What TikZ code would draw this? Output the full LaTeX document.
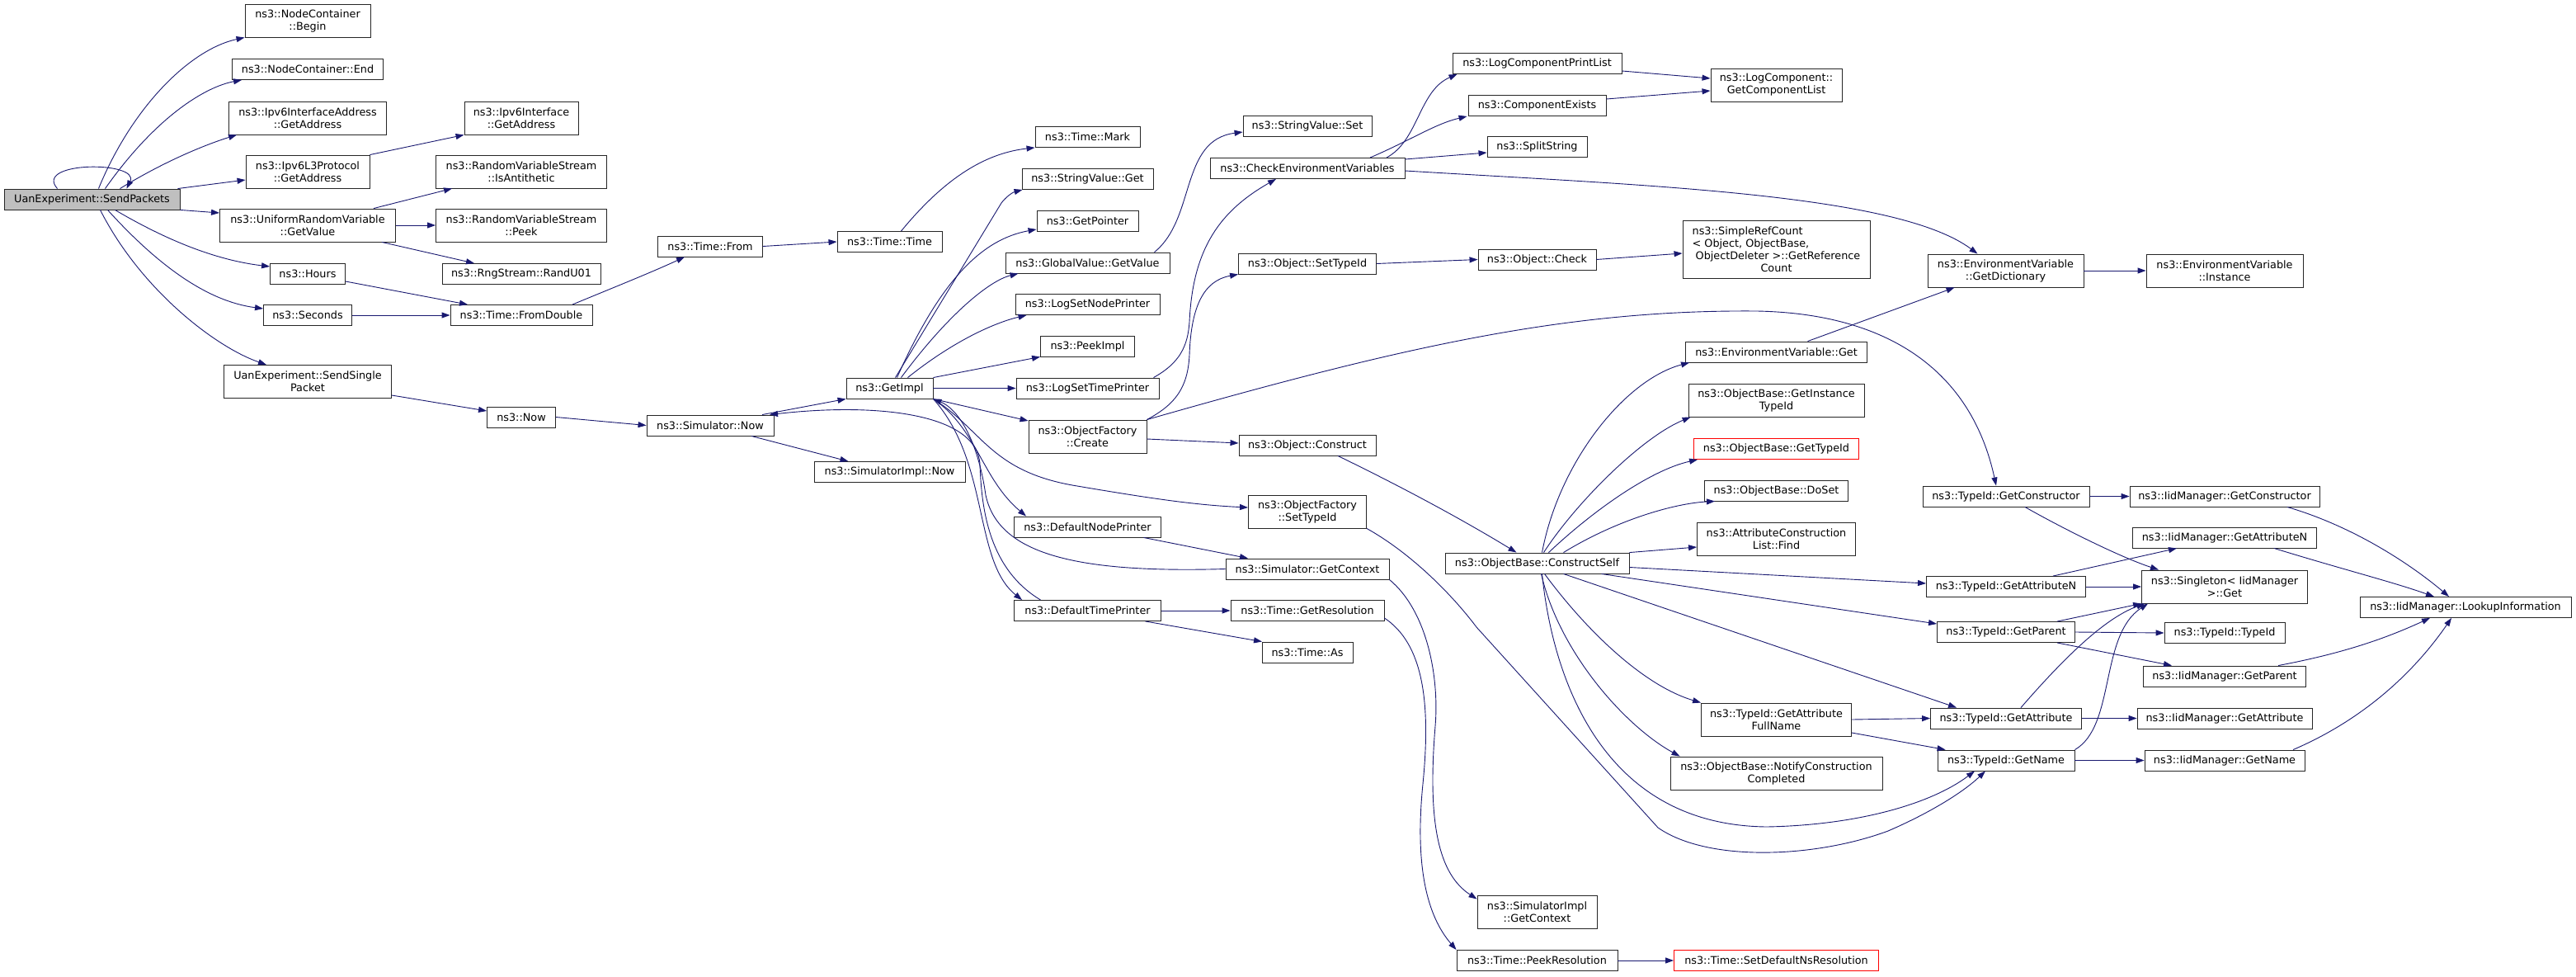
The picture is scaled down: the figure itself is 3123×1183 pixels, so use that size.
\documentclass[tikz,border=0pt]{standalone}
\usepackage{fontspec}
\setmainfont{DejaVu Sans}
\usetikzlibrary{arrows.meta,calc}
\definecolor{edgeblue}{HTML}{191970}
\definecolor{rootgray}{HTML}{BFBFBF}
\tikzset{
  box/.style={draw=black!85, fill=white, line width=0.9pt, minimum height=25pt, inner sep=2pt, align=center, font=\fontsize{12.8pt}{15pt}\selectfont},
  twol/.style={minimum height=40pt},
  redbox/.style={draw=red},
  edge/.style={draw=edgeblue, line width=0.9pt, -{Triangle[length=10pt,width=7pt]}, fill=none}
}
\begin{document}
\begin{tikzpicture}[x=1pt,y=-1pt]
\useasboundingbox (0,0) rectangle (3123,1183);
% column 0
\node[box,fill=rootgray,minimum width=213pt] (sp) at (111.5,241.5) {UanExperiment::SendPackets};
% column 1
\node[box,twol,minimum width=152pt] (ncb) at (373,25) {ns3::NodeContainer\\::Begin};
\node[box,minimum width=183pt] (nce) at (373,84) {ns3::NodeContainer::End};
\node[box,twol,minimum width=191pt] (iag) at (373,143) {ns3::Ipv6InterfaceAddress\\::GetAddress};
\node[box,twol,minimum width=150pt] (l3g) at (373,208) {ns3::Ipv6L3Protocol\\::GetAddress};
\node[box,twol,minimum width=213pt] (urv) at (373,273) {ns3::UniformRandomVariable\\::GetValue};
\node[box,minimum width=91pt] (hrs) at (373,332) {ns3::Hours};
\node[box,minimum width=107pt] (sec) at (373,382) {ns3::Seconds};
\node[box,twol,minimum width=203pt] (ssp) at (373,462.5) {UanExperiment::SendSingle\\Packet};
% column 2
\node[box,twol,minimum width=138pt] (iig) at (632,143) {ns3::Ipv6Interface\\::GetAddress};
\node[box,twol,minimum width=207pt] (rvsa) at (632,208) {ns3::RandomVariableStream\\::IsAntithetic};
\node[box,twol,minimum width=207pt] (rvsp) at (632,273) {ns3::RandomVariableStream\\::Peek};
\node[box,minimum width=192pt] (rng) at (632,332) {ns3::RngStream::RandU01};
\node[box,minimum width=172pt] (fd) at (632,382) {ns3::Time::FromDouble};
\node[box,minimum width=83pt] (now) at (632,505.5) {ns3::Now};
% column 3
\node[box,minimum width=127pt] (tfrom) at (861,298.5) {ns3::Time::From};
\node[box,minimum width=154pt] (snow) at (861,515.5) {ns3::Simulator::Now};
% column 4
\node[box,minimum width=127pt] (ttime) at (1078.5,293) {ns3::Time::Time};
\node[box,minimum width=105pt] (gimpl) at (1078.5,470.5) {ns3::GetImpl};
\node[box,minimum width=183pt] (sinow) at (1078.5,572) {ns3::SimulatorImpl::Now};
% column 5
\node[box,minimum width=127pt] (mark) at (1318.5,166) {ns3::Time::Mark};
\node[box,minimum width=159pt] (svget) at (1318.5,217) {ns3::StringValue::Get};
\node[box,minimum width=123pt] (gptr) at (1318.5,268) {ns3::GetPointer};
\node[box,minimum width=199pt] (gvget) at (1318.5,318.5) {ns3::GlobalValue::GetValue};
\node[box,minimum width=175pt] (lsnp) at (1318.5,369) {ns3::LogSetNodePrinter};
\node[box,minimum width=114pt] (peek) at (1318.5,419.5) {ns3::PeekImpl};
\node[box,minimum width=173pt] (lstp) at (1318.5,470.5) {ns3::LogSetTimePrinter};
\node[box,twol,minimum width=143pt] (ofc) at (1318.5,529) {ns3::ObjectFactory\\::Create};
\node[box,minimum width=178pt] (dnp) at (1318.5,638.5) {ns3::DefaultNodePrinter};
\node[box,minimum width=178pt] (dtp) at (1318.5,740) {ns3::DefaultTimePrinter};
% column 6
\node[box,minimum width=156pt] (svset) at (1585,153) {ns3::StringValue::Set};
\node[box,minimum width=236pt] (cev) at (1585,204) {ns3::CheckEnvironmentVariables};
\node[box,minimum width=167pt] (osti) at (1585,319.5) {ns3::Object::SetTypeId};
\node[box,minimum width=166pt] (ocons) at (1585,539.5) {ns3::Object::Construct};
\node[box,twol,minimum width=143pt] (ofst) at (1585,620) {ns3::ObjectFactory\\::SetTypeId};
\node[box,minimum width=198pt] (sgc) at (1585,689.5) {ns3::Simulator::GetContext};
\node[box,minimum width=186pt] (tgr) at (1585,740) {ns3::Time::GetResolution};
\node[box,minimum width=110pt] (tas) at (1585,790.5) {ns3::Time::As};
% column 7
\node[box,minimum width=205pt] (lcpl) at (1863.5,77) {ns3::LogComponentPrintList};
\node[box,minimum width=167pt] (cex) at (1863.5,128) {ns3::ComponentExists};
\node[box,minimum width=121pt] (split) at (1863.5,178) {ns3::SplitString};
\node[box,minimum width=143pt] (ochk) at (1863.5,314.5) {ns3::Object::Check};
\node[box,minimum width=223pt] (obcs) at (1863.5,682.5) {ns3::ObjectBase::ConstructSelf};
\node[box,twol,minimum width=145pt] (sigc) at (1863.5,1105) {ns3::SimulatorImpl\\::GetContext};
\node[box,minimum width=195pt] (tpr) at (1863.5,1164) {ns3::Time::PeekResolution};
% column 8
\node[box,twol,minimum width=159pt] (gcl) at (2153.5,103) {ns3::LogComponent::\\GetComponentList};
\node[box,minimum width=227pt,minimum height=70pt,align=left] (src) at (2153.5,302) {ns3::SimpleRefCount\\{}< Object, ObjectBase,\\\hspace*{4pt}ObjectDeleter >::GetReference\\\hspace*{\fill}Count\hspace*{\fill}};
\node[box,minimum width=220pt] (evg) at (2153.5,426.5) {ns3::EnvironmentVariable::Get};
\node[box,twol,minimum width=213pt] (obgit) at (2153.5,485) {ns3::ObjectBase::GetInstance\\TypeId};
\node[box,redbox,minimum width=200pt] (obgt) at (2153.5,544) {ns3::ObjectBase::GetTypeId};
\node[box,minimum width=174pt] (obds) at (2153.5,594.5) {ns3::ObjectBase::DoSet};
\node[box,twol,minimum width=192pt] (acl) at (2153.5,653) {ns3::AttributeConstruction\\List::Find};
\node[box,twol,minimum width=182pt] (gafn) at (2153.5,872) {ns3::TypeId::GetAttribute\\FullName};
\node[box,twol,minimum width=257pt] (ncc) at (2153.5,937) {ns3::ObjectBase::NotifyConstruction\\Completed};
\node[box,redbox,minimum width=248pt] (sdns) at (2153.5,1164) {ns3::Time::SetDefaultNsResolution};
% column 9
\node[box,twol,minimum width=189pt] (evgd) at (2431.5,328) {ns3::EnvironmentVariable\\::GetDictionary};
\node[box,minimum width=202pt] (tgc) at (2432,601.5) {ns3::TypeId::GetConstructor};
\node[box,minimum width=193pt] (tgan) at (2432,711) {ns3::TypeId::GetAttributeN};
\node[box,minimum width=167pt] (tgp) at (2432,766) {ns3::TypeId::GetParent};
\node[box,minimum width=183pt] (tga) at (2432,870.5) {ns3::TypeId::GetAttribute};
\node[box,minimum width=166pt] (tgn) at (2432,921.5) {ns3::TypeId::GetName};
% column 10
\node[box,twol,minimum width=190pt] (evi) at (2697,328) {ns3::EnvironmentVariable\\::Instance};
\node[box,minimum width=230pt] (igc) at (2697,601.5) {ns3::IidManager::GetConstructor};
\node[box,minimum width=223pt] (igan) at (2697,651.5) {ns3::IidManager::GetAttributeN};
\node[box,twol,minimum width=201pt] (sing) at (2697,711) {ns3::Singleton< IidManager\\ >::Get};
\node[box,minimum width=146pt] (ttid) at (2697,767) {ns3::TypeId::TypeId};
\node[box,minimum width=197pt] (igp) at (2697,819.5) {ns3::IidManager::GetParent};
\node[box,minimum width=212pt] (iga) at (2697,870.5) {ns3::IidManager::GetAttribute};
\node[box,minimum width=194pt] (ign) at (2697,921.5) {ns3::IidManager::GetName};
% column 11
\node[box,minimum width=256pt] (lki) at (2989,736) {ns3::IidManager::LookupInformation};

% ---------------- edges ----------------
% SendPackets
\draw[edge] ([xshift=-42pt]sp.north) .. controls (40,195) and (170,195) .. ([xshift=42pt]sp.north);
\draw[edge] ([xshift=8pt]sp.north) .. controls (160,130) and (230,60) .. (ncb.south west);
\draw[edge] ([xshift=16pt]sp.north) .. controls (190,140) and (250,105) .. ([xshift=12pt]nce.south west);
\draw[edge] ([xshift=34pt]sp.north) .. controls (200,195) and (250,175) .. ([xshift=10pt]iag.south west);
\draw[edge] ([xshift=104pt]sp.north) -- ([yshift=-10pt]l3g.west);
\draw[edge] (sp.south east) -- ([yshift=15pt]urv.west);
\draw[edge] ([xshift=28pt]sp.south) .. controls (200,290) and (260,315) .. ([yshift=9pt]hrs.west);
\draw[edge] ([xshift=19pt]sp.south) .. controls (190,320) and (250,365) .. ([yshift=8pt]sec.west);
\draw[edge] ([xshift=10pt]sp.south) .. controls (170,350) and (260,420) .. ([xshift=-50pt]ssp.north);
% column 1 -> 2
\draw[edge] (l3g.north east) -- (iig.south west);
\draw[edge] ([xshift=80pt]urv.north) -- ([xshift=20pt]rvsa.south west);
\draw[edge] (urv.east) -- (rvsp.west);
\draw[edge] ([xshift=90pt]urv.south) -- ([xshift=-57pt]rng.north);
\draw[edge] ([yshift=-9pt]hrs.east) -- ([xshift=-65pt]fd.north);
\draw[edge] (sec.east) -- (fd.west);
\draw[edge] ([yshift=-16.5pt]ssp.east) -- ([yshift=7.5pt]now.west);
% time chain
\draw[edge] ([xshift=62pt]fd.north) .. controls (740,350) and (790,330) .. ([xshift=-31pt]tfrom.south);
\draw[edge] (tfrom.east) -- (ttime.west);
\draw[edge] ([xshift=14pt]ttime.north) .. controls (1150,210) and (1200,185) .. (mark.south west);
% simulator now
\draw[edge] (now.east) -- (snow.west);
\draw[edge] ([xshift=63pt]snow.north) -- (gimpl.south west);
\draw[edge] ([xshift=50pt]snow.south) -- ([xshift=-50pt]sinow.north);
\draw[edge] ([xshift=-57pt]dtp.north) .. controls (1200,690) and (1190,620) .. (1188,563) .. controls (1185,500) and (1060,488) .. ([xshift=72pt]snow.north);
% GetImpl fan
\draw[edge] ([xshift=7pt]gimpl.north) -- (1214,246) .. controls (1220,238) and (1228,233) .. ([xshift=1pt]svget.south west);
\draw[edge] ([xshift=9pt]gimpl.north) .. controls (1140,340) and (1190,290) .. ([yshift=3pt]gptr.south west);
\draw[edge] ([xshift=14pt]gimpl.north) .. controls (1150,380) and (1200,340) .. ([xshift=16pt]gvget.south west);
\draw[edge] ([xshift=22pt]gimpl.north) .. controls (1160,410) and (1210,390) .. ([xshift=14pt]lsnp.south west);
\draw[edge] (gimpl.north east) -- (peek.south west);
\draw[edge] (gimpl.east) -- (lstp.west);
\draw[edge] (gimpl.south east) -- ([yshift=19pt]ofc.west);
\draw[edge] (gimpl.south east) .. controls (1190,520) and (1200,570) .. (1300,588) .. controls (1400,605) and (1450,612) .. ([yshift=5pt]ofst.west);
\draw[edge] (gimpl.south east) .. controls (1185,520) and (1190,580) .. ([xshift=15pt]dnp.north west);
\draw[edge] (gimpl.south east) .. controls (1200,560) and (1180,680) .. ([xshift=10pt]dtp.north west);
\draw[edge] (sgc.west) .. controls (1300,695) and (1210,670) .. (1195,600) .. controls (1185,530) and (1160,495) .. (gimpl.south east);
% column 5 -> 6
\draw[edge] ([xshift=81pt]gvget.north) .. controls (1450,265) and (1430,170) .. ([yshift=-7pt]svset.west);
\draw[edge] ([xshift=80pt]lstp.north) .. controls (1430,440) and (1440,420) .. (1442,390) .. controls (1446,300) and (1480,255) .. ([xshift=-38pt]cev.south);
\draw[edge] (ofc.north east) .. controls (1425,490) and (1440,470) .. (1442,430) .. controls (1444,370) and (1460,340) .. (osti.south west);
\draw[edge] ([yshift=-3pt]ofc.east) -- ([yshift=2.5pt]ocons.west);
\draw[edge] (ofc.north east) .. controls (1700,420) and (1900,375) .. (2130,377) .. controls (2290,380) and (2390,450) .. ([xshift=-12pt]tgc.north);
\draw[edge] ([xshift=68pt]dnp.south) -- ([xshift=-72pt]sgc.north);
\draw[edge] (dtp.east) -- (tgr.west);
\draw[edge] ([xshift=70pt]dtp.south) -- ([xshift=-55pt]tas.north);
% column 6 -> 7
\draw[edge] ([xshift=96pt]cev.north) .. controls (1720,170) and (1720,110) .. ([xshift=6pt]lcpl.south west);
\draw[edge] ([xshift=76pt]cev.north) .. controls (1710,170) and (1740,150) .. ([xshift=-1pt]cex.south west);
\draw[edge] ([yshift=11pt]cev.east) -- ([yshift=-7pt]split.west);
\draw[edge] ([yshift=-3pt]cev.east) .. controls (2000,225) and (2300,235) .. ([xshift=-34pt]evgd.north);
\draw[edge] (osti.east) -- (ochk.west);
\draw[edge] ([xshift=37pt]ocons.south) .. controls (1720,600) and (1790,640) .. ([xshift=-25pt]obcs.north);
\draw[edge] (ofst.south east) .. controls (1710,670) and (1760,720) .. (1790,760) -- (2010,1003) .. controls (2070,1045) and (2200,1040) .. (2289,1007) .. controls (2340,985) and (2380,960) .. ([xshift=-25pt]tgn.south);
\draw[edge] (sgc.south east) .. controls (1730,740) and (1745,820) .. (1740,880) .. controls (1730,1000) and (1745,1060) .. ([yshift=-5pt]sigc.north west);
\draw[edge] ([yshift=-9pt]tgr.east) .. controls (1725,780) and (1735,850) .. (1725,950) .. controls (1715,1050) and (1730,1110) .. (tpr.north west);
\draw[edge] (tpr.east) -- (sdns.west);
% column 7 -> 8
\draw[edge] ([yshift=-9pt]lcpl.east) -- ([yshift=8pt]gcl.west);
\draw[edge] ([yshift=8pt]cex.east) -- ([yshift=-7pt]gcl.west);
\draw[edge] (ochk.east) -- ([yshift=-5pt]src.west);
% ConstructSelf fan
\draw[edge] ([xshift=6pt]obcs.north) .. controls (1890,560) and (1970,460) .. ([xshift=5pt]evg.south west);
\draw[edge] ([xshift=8pt]obcs.north) .. controls (1910,610) and (1990,530) .. ([xshift=3pt]obgit.south west);
\draw[edge] ([xshift=14pt]obcs.north) .. controls (1930,620) and (2000,570) .. ([xshift=5pt]obgt.south west);
\draw[edge] ([xshift=32pt]obcs.north) .. controls (1960,630) and (2030,610) .. ([xshift=13pt]obds.south west);
\draw[edge] (obcs.north east) -- ([yshift=-10pt]acl.west);
\draw[edge] ([yshift=-5pt]obcs.east) -- ([yshift=4pt]tgan.west);
\draw[edge] ([xshift=78pt]obcs.south) -- ([yshift=10pt]tgp.west);
\draw[edge] ([xshift=32pt]obcs.south) -- ([xshift=32pt]tga.north west);
\draw[edge] ([xshift=9pt]obcs.south) .. controls (1920,760) and (1990,830) .. (gafn.north west);
\draw[edge] ([xshift=5pt]obcs.south) .. controls (1890,790) and (1970,880) .. ([xshift=12pt]ncc.north west);
\draw[edge] ([xshift=6pt]obcs.south) .. controls (1880,800) and (1930,1000) .. (2142,1002) .. controls (2250,1000) and (2340,975) .. ([xshift=-38pt]tgn.south);
% column 8 -> 9
\draw[edge] ([xshift=38pt]evg.north) -- ([xshift=-62pt]evgd.south);
\draw[edge] (gafn.east) -- (tga.west);
\draw[edge] ([yshift=-16pt]gafn.east) -- ([xshift=10pt]tgn.north west);
% column 9 -> 10
\draw[edge] (evgd.east) -- (evi.west);
\draw[edge] (tgc.east) -- (igc.west);
\draw[edge] ([xshift=23pt]tgc.south) .. controls (2500,640) and (2570,675) .. ([xshift=21pt]sing.north west);
\draw[edge] ([xshift=57pt]tgan.north) -- ([xshift=-58pt]igan.south);
\draw[edge] (tgan.east) -- (sing.west);
\draw[edge] ([xshift=62pt]tgp.north) -- (sing.south west);
\draw[edge] (tgp.east) -- (ttid.west);
\draw[edge] ([xshift=62pt]tgp.south) -- ([xshift=-64pt]igp.north);
\draw[edge] ([xshift=18pt]tga.north) .. controls (2500,800) and (2550,750) .. ([xshift=4pt]sing.south west);
\draw[edge] (tga.east) -- (iga.west);
\draw[edge] (tgn.north east) .. controls (2565,880) and (2545,770) .. ([xshift=8pt]sing.south west);
\draw[edge] (tgn.east) -- (ign.west);
% column 10 -> 11
\draw[edge] ([xshift=76pt]igc.south) .. controls (2860,640) and (2930,690) .. ([xshift=-20pt]lki.north);
\draw[edge] ([xshift=60pt]igan.south) .. controls (2840,690) and (2900,705) .. ([xshift=-38pt]lki.north);
\draw[edge] ([xshift=65pt]igp.north) .. controls (2850,790) and (2900,770) .. ([xshift=-43pt]lki.south);
\draw[edge] ([xshift=83pt]ign.north) .. controls (2870,870) and (2930,810) .. ([xshift=-17pt]lki.south);
\end{tikzpicture}
\end{document}
